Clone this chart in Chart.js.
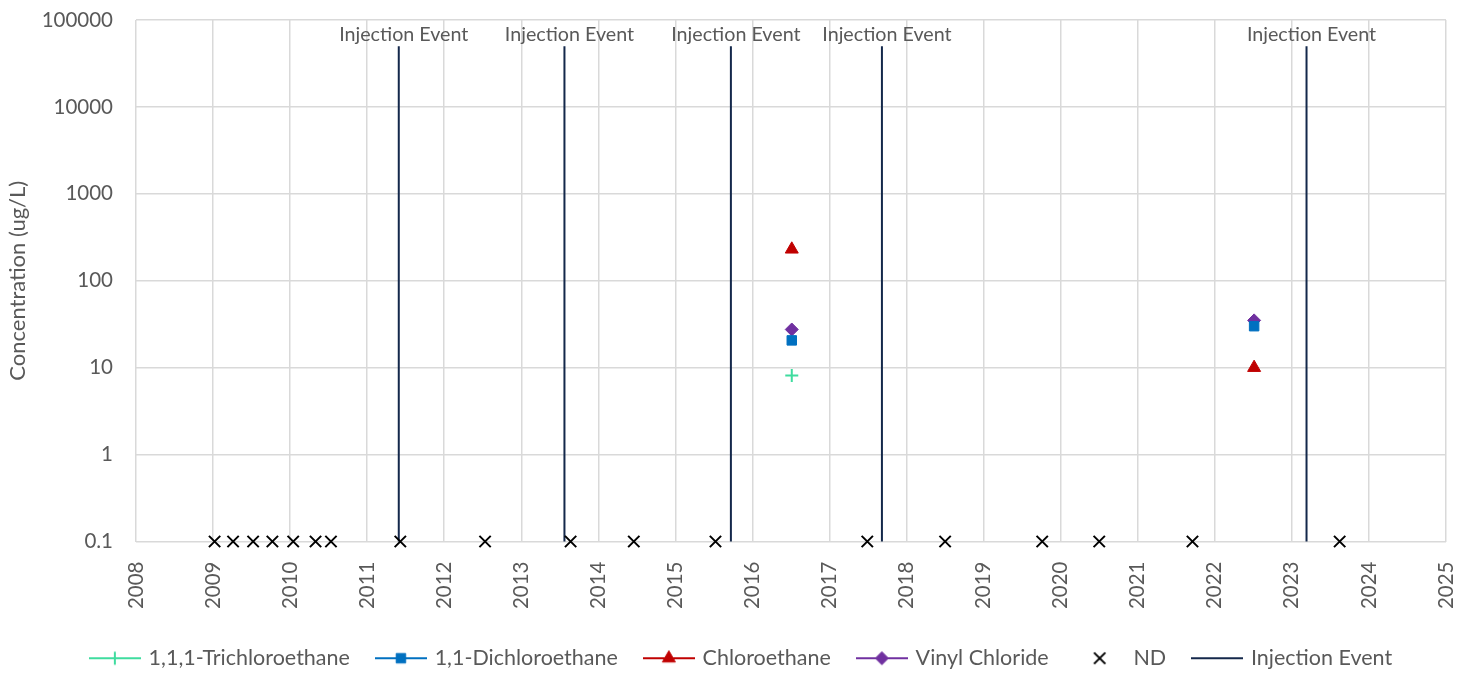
<!DOCTYPE html>
<html><head><meta charset="utf-8">
<script src="https://cdn.jsdelivr.net/npm/chart.js@4.4.1/dist/chart.umd.min.js"></script>
<style>html,body{margin:0;padding:0;background:#fff;overflow:hidden}canvas{display:block}</style>
</head><body>
<canvas id="c" width="1468" height="679"></canvas>
<script>
// ---- data ----
const yTickValues = [0.1, 1, 10, 100, 1000, 10000, 100000];
const xTickYears = [2008, 2009, 2010, 2011, 2012, 2013, 2014, 2015, 2016, 2017, 2018, 2019, 2020, 2021, 2022, 2023, 2024, 2025];
const ndDates = [2009.02, 2009.26, 2009.52, 2009.77, 2010.04, 2010.33, 2010.53, 2011.43, 2012.53, 2013.64, 2014.46, 2015.52, 2017.49, 2018.50, 2019.76, 2020.50, 2021.71, 2023.62];
const ndValues = [0.1, 0.1, 0.1, 0.1, 0.1, 0.1, 0.1, 0.1, 0.1, 0.1, 0.1, 0.1, 0.1, 0.1, 0.1, 0.1, 0.1, 0.1];
const sampleDates = [2016.51, 2022.51];
const trichloroethane111 = [8.1, null];
const dichloroethane11 = [20.6, 30];
const chloroethane = [230, 10];
const vinylChloride = [27.5, 35];
const injectionDates = [2011.41, 2013.56, 2015.72, 2017.68, 2023.19];
const injectionRange = [0.1, 50000];
const injectionLabels = ['Injection Event', 'Injection Event', 'Injection Event', 'Injection Event', 'Injection Event'];

// ---- helpers ----
const pts = (xs, ys) => xs.map((x, i) => ({x: x, y: ys[i]}));
const injectionPoints = [];
injectionDates.forEach(d => {
  injectionPoints.push({x: d, y: injectionRange[0]});
  injectionPoints.push({x: d, y: injectionRange[1]});
  injectionPoints.push({x: d, y: null});
});

const FONT = "Lato, 'Noto Sans', sans-serif";
Chart.defaults.font.family = FONT;
Chart.defaults.font.size = 20;
Chart.defaults.color = '#595959';

const GRID = '#d9d9d9';
const PAD_LEFT = 38;

const seriesStyles = [
  {label: '1,1,1-Trichloroethane', color: '#3fdc9f', pointStyle: 'cross', radius: 6.5, line: true},
  {label: '1,1-Dichloroethane', color: '#0070c0', pointStyle: 'rect', radius: 6.7, line: true},
  {label: 'Chloroethane', color: '#c00000', pointStyle: 'triangle', radius: 7.5, line: true},
  {label: 'Vinyl Chloride', color: '#7030a0', pointStyle: 'rectRot', radius: 6.5, line: true},
  {label: 'ND', color: '#000000', pointStyle: 'crossRot', radius: 8, line: false},
  {label: 'Injection Event', color: '#14284b', pointStyle: false, radius: 0, line: true}
];

function legendImage(s) {
  const cv = document.createElement('canvas');
  cv.width = 52; cv.height = 20;
  const c = cv.getContext('2d');
  if (s.line) {
    c.strokeStyle = s.color; c.lineWidth = 2;
    c.beginPath(); c.moveTo(0, 10); c.lineTo(52, 10); c.stroke();
  }
  if (s.pointStyle) {
    c.fillStyle = s.color; c.strokeStyle = s.color;
    c.lineWidth = (s.pointStyle === 'cross' || s.pointStyle === 'crossRot') ? 2 : 1;
    Chart.helpers.drawPoint(c, {pointStyle: s.pointStyle, radius: s.radius, borderWidth: c.lineWidth, rotation: 0}, 26, 10);
  }
  return cv;
}

const seriesValues = [trichloroethane111, dichloroethane11, chloroethane, vinylChloride];
const datasets = [];
seriesValues.forEach((vals, i) => {
  const s = seriesStyles[i];
  datasets.push({
    label: s.label, data: pts(sampleDates, vals), showLine: false, clip: false,
    pointStyle: s.pointStyle, pointRadius: s.radius, pointHoverRadius: s.radius,
    backgroundColor: s.color, borderColor: s.color,
    pointBorderWidth: s.pointStyle === 'cross' ? 2 : 1
  });
});
datasets.push({
  label: 'ND', data: pts(ndDates, ndValues), showLine: false, clip: false,
  pointStyle: 'crossRot', pointRadius: 8, pointHoverRadius: 8,
  backgroundColor: '#000', borderColor: '#000', pointBorderWidth: 2
});
datasets.push({
  label: 'Injection Event', data: injectionPoints, showLine: true, spanGaps: false, clip: false,
  pointRadius: 0, pointHoverRadius: 0, borderColor: '#14284b', borderWidth: 2,
  backgroundColor: '#14284b'
});

const injectionLabelPlugin = {
  id: 'injLabels',
  afterDatasetsDraw(chart) {
    const {ctx, scales: {x, y}} = chart;
    ctx.save();
    ctx.font = "19.7px " + FONT;
    ctx.fillStyle = '#595959';
    ctx.textAlign = 'center';
    ctx.textBaseline = 'middle';
    injectionDates.forEach((d, i) => {
      ctx.fillText(injectionLabels[i], x.getPixelForValue(d) + 5, y.getPixelForValue(injectionRange[1]) - 12);
    });
    ctx.restore();
  }
};

new Chart(document.getElementById('c'), {
  type: 'scatter',
  data: {datasets: datasets},
  plugins: [injectionLabelPlugin],
  options: {
    responsive: false,
    animation: false,
    layout: {padding: {top: 20, right: 22, bottom: 0, left: PAD_LEFT}},
    plugins: {
      tooltip: {enabled: false},
      legend: {
        position: 'bottom',
        labels: {
          usePointStyle: true,
          pointStyleWidth: 46,
          boxHeight: 20,
          padding: 28,
          font: {size: 21.5, lineHeight: 1},
          color: '#595959',
          generateLabels: () => seriesStyles.map((s, i) => ({
            text: s.label, pointStyle: legendImage(s), fillStyle: s.color,
            strokeStyle: s.color, lineWidth: 0, datasetIndex: i, hidden: false, fontColor: '#595959'
          }))
        }
      }
    },
    scales: {
      x: {
        type: 'linear', min: 2008, max: 2025,
        afterBuildTicks: a => { a.ticks = xTickYears.map(v => ({value: v})); },
        afterFit: a => { a.height = 78; a.paddingLeft = 0; a.paddingRight = 0; a.paddingTop = 0; a.paddingBottom = 0; },
        ticks: {minRotation: 90, maxRotation: 90, autoSkip: false, padding: 20, callback: v => String(v), color: '#595959', font: {size: 20.5}},
        grid: {color: GRID, lineWidth: 1.5, drawTicks: false},
        border: {display: false}
      },
      y: {
        type: 'logarithmic', min: 0.1, max: 100000,
        afterBuildTicks: a => { a.ticks = yTickValues.map(v => ({value: v})); },
        afterFit: a => { a.width = 136 - PAD_LEFT; a.paddingTop = 0; a.paddingBottom = 0; a.paddingLeft = 0; a.paddingRight = 0; },
        ticks: {padding: 23, callback: v => String(v), color: '#595959', font: {size: 20.5}},
        grid: {color: GRID, lineWidth: 1.5, drawTicks: false},
        border: {display: false},
        title: {display: true, text: 'Concentration (ug/L)', color: '#595959', font: {size: 22}, padding: {top: 5 - PAD_LEFT, bottom: 0}}
      }
    }
  }
});
</script>
</body></html>
